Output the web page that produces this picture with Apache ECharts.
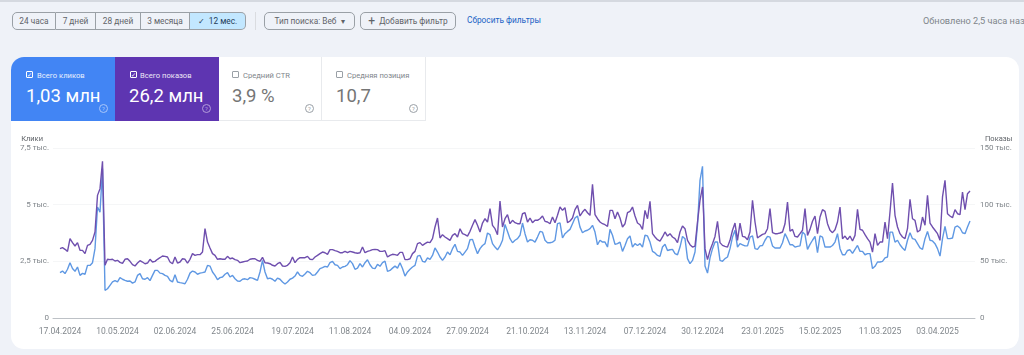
<!DOCTYPE html>
<html>
<head>
<meta charset="utf-8">
<title>Search Console</title>
<script src="https://cdn.jsdelivr.net/npm/echarts@6/dist/echarts.min.js"></script>
<style>
html,body{margin:0;padding:0;width:1024px;height:355px;overflow:hidden;background:#eff2f8;font-family:Roboto,sans-serif;color:#5f6368}
.abs{position:absolute;box-sizing:border-box;white-space:nowrap}
.seg{top:12px;height:18px;border:1px solid #9aa0a6;border-left:none;font-size:8.3px;line-height:16px;text-align:center;color:#5f6368}
.btn{top:12px;height:18px;border:1px solid #9aa0a6;border-radius:5px;font-size:8.3px;line-height:16px;text-align:center;color:#5f6368}
.tile{top:57px;height:64px;border-right:1px solid #e8eaed;border-bottom:1px solid #e8eaed}
.lbl{top:71px;font-size:7.6px;line-height:9px}
.val{top:84px;font-size:18.5px;line-height:24px}
.box{top:71px;width:7px;height:7px;border:1px solid #9aa0a6;border-radius:1px}
.q{top:104px;width:9px;height:9px;border:1px solid #9aa0a6;border-radius:50%;font-size:6px;line-height:7px;text-align:center;color:#9aa0a6}
</style>
</head>
<body>
<div class="abs" style="left:0;top:0;width:1024px;height:2px;background:#d5d9e0"></div>

<div class="abs seg" style="left:12px;width:44px;border-left:1px solid #9aa0a6;border-radius:5px 0 0 5px">24 часа</div>
<div class="abs seg" style="left:56px;width:40px">7 дней</div>
<div class="abs seg" style="left:96px;width:45px">28 дней</div>
<div class="abs seg" style="left:141px;width:49px">3 месяца</div>
<div class="abs seg" style="left:190px;width:56px;background:#c2e7ff;border-radius:0 5px 5px 0;color:#1f3b57">✓&nbsp; 12 мес.</div>
<div class="abs" style="left:255px;top:12px;width:1px;height:18px;background:#dadce0"></div>
<div class="abs btn" style="left:264px;width:91px">Тип поиска: Веб &nbsp;▾</div>
<div class="abs btn" style="left:360px;width:96px"><span style="font-size:12px;vertical-align:-1px">+</span>&nbsp; Добавить фильтр</div>
<div class="abs" style="left:467px;top:15px;font-size:8.3px;line-height:11px;color:#1a62c5">Сбросить фильтры</div>
<div class="abs" style="left:923px;top:15px;font-size:9.2px;line-height:11px;color:#80868b">Обновлено 2,5 часа назад</div>

<!-- белая карточка -->
<div class="abs" style="left:11px;top:57px;width:1008px;height:292px;background:#fff;border-radius:13px"></div>

<div class="abs tile" style="left:11px;width:104px;background:#4285f4;border:none;border-radius:13px 0 0 0"></div>
<div class="abs tile" style="left:115px;width:104px;background:#5e35b1;border:none"></div>
<div class="abs tile" style="left:219px;width:103px"></div>
<div class="abs tile" style="left:322px;width:104px"></div>

<div class="abs box" style="left:26px;border-color:#fff;color:#fff;font-size:6px;line-height:5px">✓</div>
<div class="abs lbl" style="left:37px;color:#e8f0fe">Всего кликов</div>
<div class="abs val" style="left:26px;color:#fff">1,03 млн</div>
<div class="abs q" style="left:99px;border-color:#a9c7fa;color:#a9c7fa">?</div>

<div class="abs box" style="left:130px;border-color:#fff;color:#fff;font-size:6px;line-height:5px">✓</div>
<div class="abs lbl" style="left:140px;color:#ede7f6">Всего показов</div>
<div class="abs val" style="left:129px;color:#fff">26,2 млн</div>
<div class="abs q" style="left:202px;border-color:#b39ddb;color:#b39ddb">?</div>

<div class="abs box" style="left:232px"></div>
<div class="abs lbl" style="left:243px;color:#80868b">Средний CTR</div>
<div class="abs val" style="left:232px;color:#757575">3,9 %</div>
<div class="abs q" style="left:305px">?</div>

<div class="abs box" style="left:336px"></div>
<div class="abs lbl" style="left:347px;color:#80868b">Средняя позиция</div>
<div class="abs val" style="left:336px;color:#757575">10,7</div>
<div class="abs q" style="left:409px">?</div>

<div id="main" class="abs" style="left:0;top:125px;width:1024px;height:230px"></div>

<script>
// начало ряда, дальше идём по дням
var startDate = [2024, 3, 17];

// подписи оси X
var tickDates = ['17.04.2024','10.05.2024','02.06.2024','25.06.2024','19.07.2024','11.08.2024','04.09.2024','27.09.2024',
    '21.10.2024','13.11.2024','07.12.2024','30.12.2024','23.01.2025','15.02.2025','11.03.2025','03.04.2025'];

var clickTicks = ['0','2,5 тыс.','5 тыс.','7,5 тыс.'];
var showTicks = ['0','50 тыс.','100 тыс.','150 тыс.'];

// Клики, по дням
var clicks = [
    2000,2070,1960,2150,2440,2180,2060,2250,1880,1970,1930,2320,2320,2440,3060,4900,4670,6590,1220,1290,1440,1590,1650,
    1590,1780,1710,1660,1620,1630,1540,1590,1880,1960,1730,1710,1780,1650,1880,2100,2100,1980,1960,1880,1840,1660,1590,
    1910,1590,1560,1540,1510,1710,1980,2070,2030,1930,1980,2000,2030,2320,2290,2030,1880,1690,1780,1810,1930,2000,1810,
    1880,1730,1630,1620,1710,1730,1690,1780,1760,1710,1660,2030,2540,2030,1730,1760,1710,1620,1760,1710,1590,1500,1590,1710,
    1760,1850,2030,1880,1840,1940,2060,2000,1880,1900,2030,2180,2220,2280,2250,2440,2500,2350,2320,2180,2250,2280,2350,
    2530,2400,2150,2200,2400,2250,2440,2570,2350,2200,2180,2370,2280,2440,2510,2060,2100,2200,2290,2200,2440,2180,1850,2030,
    2150,2250,2320,2730,2760,2500,2470,2650,2590,2760,3090,2910,2690,2540,2690,2910,2790,3060,3250,2940,2910,2760,2910,
    3060,3450,3470,3130,2840,3060,3200,3280,3750,3680,3280,3130,3010,3180,3430,4130,3820,3500,3320,3430,3500,3650,4190,3720,
    3350,3450,3430,3350,3570,3820,3790,3430,3320,3320,3350,3430,4160,4200,3530,3720,3820,3910,4160,4410,4500,4010,3760,
    3840,3870,3940,4090,3790,3230,3430,3350,3350,3130,3910,3650,3250,3280,3350,2940,3200,3500,3620,3130,3280,3200,3280,3130,
    3650,3620,3350,2940,2870,2760,2720,3130,3250,2980,3010,3030,2840,2790,3130,3600,3500,2620,2400,2540,2910,4090,6070,
    6690,2290,1980,2650,3060,3350,3350,2540,2500,2620,2690,3060,3570,3870,3130,3280,3230,3180,3180,3570,3620,3060,3030,3180,
    3200,3430,3600,3570,3180,3090,3090,3090,3320,3720,3500,3230,3230,3130,3160,3180,3790,3680,3030,3250,3430,3600,2880,
    3620,3570,3130,3130,3130,3200,3350,3720,3060,2790,2790,2980,3010,2850,3030,3200,2940,2940,2790,2840,2840,2180,2280,2470,
    2470,2500,2650,2690,3790,3790,3350,3430,3230,3090,2980,3430,3760,3500,3470,3280,3090,3030,3500,3820,3430,3400,3280,3060,
    2730,3500,4040,3500,3500,3530,4010,4060,3970,3760,3720,4010,4280
];

// Показы, по дням
var impressions = [
    61200,62100,60600,58800,70000,66500,63500,66500,59700,59700,56800,64100,65000,68500,75900,108200,114100,138200,46500,51800,51500,51800,50300,
    50900,49100,48200,51800,52300,50000,47100,45900,48500,50600,49400,47900,48500,51800,49400,50000,51800,53200,54700,54400,53800,49400,47900,
    53800,48500,49400,52300,51800,48500,51800,56800,55300,55900,55900,58200,78800,67000,61800,56800,55300,51800,52300,51800,51800,54400,52300,
    52900,51500,50900,48800,49400,50000,50300,51800,52300,52300,50900,50000,53500,48800,48500,47900,46500,45900,47900,49100,45900,45600,46500,48800,
    53800,48800,51800,53200,53200,53200,54400,51800,51500,53800,55300,56800,58200,57600,56200,60300,60300,59400,58800,57600,57600,58800,57600,
    58800,58200,57600,57100,57600,62600,57600,58800,59400,60300,60600,60300,58800,58800,59400,53800,55300,56200,55900,55300,57900,57900,51500,51500,
    52300,56800,58800,65600,66500,64100,65600,67000,66500,70000,80300,88200,70600,73500,71500,70000,68500,72900,74400,71500,78800,74400,73500,
    72300,76500,81800,86800,81800,75900,83800,87600,84700,96500,81800,78800,73500,103200,80300,87600,91200,83200,86200,84100,83200,83200,92000,92900,
    84700,88200,84100,86200,86200,87600,90000,85300,84700,83200,89100,84100,90600,97900,95000,97300,84100,85600,88200,95600,99400,90000,93500,
    95900,92900,90600,117900,91200,87600,84700,83200,82300,80900,95000,95000,87600,93500,88200,80300,83200,92900,94100,97900,90000,83800,82300,78200,
    95000,87600,102900,74400,71500,69100,67900,71500,75900,72300,74400,71500,70000,66500,75900,81200,78800,68500,64700,62600,63500,84700,103800,
    115600,61200,51500,59700,65600,72000,85300,66500,64100,63200,62600,68500,77400,83800,68500,83800,72000,71500,69100,75900,103800,84700,70600,72300,
    73800,74400,78800,96500,75300,74400,74400,75000,75900,83200,102300,76500,78200,72000,71500,74400,77400,96500,72900,78200,85300,90000,74400,
    89100,95600,94100,83200,77400,75300,77900,84700,97900,70000,72300,69100,72300,67900,72900,95900,78200,77400,73500,70000,67000,58200,74400,64100,
    67000,67000,84700,70000,93500,119100,90600,80300,74400,71500,70000,78800,104700,87600,86200,75900,77400,89100,81800,108200,83800,80300,77400,74400,
    68500,106800,121500,92000,90000,88500,95600,92000,91200,111200,95600,109700,112000
];

(function(window){
    var DAY = 86400000;
    var GREY = '#80868b';
    var first = Date.UTC(startDate[0], startDate[1], startDate[2]);

    // ось X считаем в днях от начала ряда (time-ось падает на customValues)
    function toPairs(list){
        return list.map(function(v, i){ return [i, v]; });
    }
    // '17.04.2024' -> номер дня
    function tickDay(s){
        var p = s.split('.');
        return Math.round((Date.UTC(+p[2], p[1] - 1, +p[0]) - first) / DAY);
    }

    var tickDays = tickDates.map(tickDay);
    var myChart = echarts.init(document.getElementById('main'));

    var option = {
        animation: false,
        textStyle: { fontFamily: 'Roboto, sans-serif' },
        grid: { left: 53, right: 49, top: 23, bottom: 37 },
        xAxis: {
            type: 'value',
            // ось чуть шире данных, как в оригинале
            min: -2.8,
            max: 366,
            axisLine: { onZero: false, lineStyle: { color: '#bdc1c6', width: 1 } },
            axisTick: { show: false },
            splitLine: { show: false },
            axisLabel: {
                customValues: tickDays,
                color: GREY,
                fontSize: 8.5,
                margin: 9,
                hideOverlap: false,
                formatter: function(v){
                    return tickDates[tickDays.indexOf(v)];
                }
            }
        },
        yAxis: [
            {
                type: 'value', min: 0, max: 7500, interval: 2500,
                name: 'Клики', nameLocation: 'end', nameGap: 5,
                nameTextStyle: { color: '#5f6368', fontSize: 7.5, align: 'right', padding: [0, 17, 0, 0] },
                axisLine: { show: false }, axisTick: { show: false },
                splitLine: { lineStyle: { color: '#f5f6f7', width: 1 } },
                axisLabel: {
                    color: GREY, fontSize: 8, margin: 4,
                    formatter: function(v){ return clickTicks[v / 2500]; }
                }
            },
            {
                type: 'value', min: 0, max: 150000, interval: 50000,
                name: 'Показы', nameLocation: 'end', nameGap: 5,
                nameTextStyle: { color: '#5f6368', fontSize: 7.5, align: 'left', padding: [0, 0, 0, 10] },
                axisLine: { show: false }, axisTick: { show: false },
                splitLine: { show: false },
                axisLabel: {
                    color: GREY, fontSize: 8, margin: 5,
                    formatter: function(v){ return showTicks[v / 50000]; }
                }
            }
        ],
        series: [
            {
                name: 'Клики', type: 'line', yAxisIndex: 0, showSymbol: false,
                lineStyle: { color: '#5f98e3', width: 1.4 },
                data: toPairs(clicks)
            },
            {
                name: 'Показы', type: 'line', yAxisIndex: 1, showSymbol: false,
                lineStyle: { color: '#6f4fae', width: 1.4 },
                data: toPairs(impressions)
            }
        ]
    };
    myChart.setOption(option);
}(window));
</script>
</body>
</html>
